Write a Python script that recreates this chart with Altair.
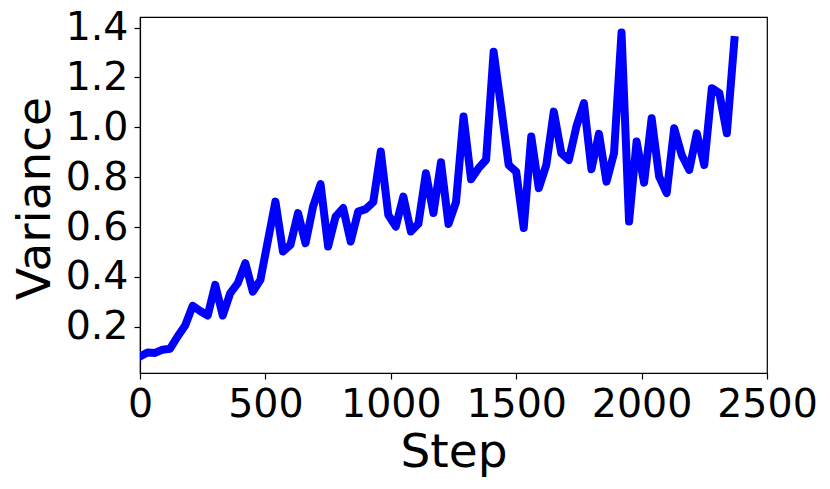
import altair as alt
import pandas as pd

steps = list(range(0, 2371, 30))
variance = [
    0.081, 0.097, 0.095, 0.108, 0.112, 0.161, 0.205, 0.284, 0.263, 0.245,
    0.368, 0.245, 0.335, 0.375, 0.455, 0.341, 0.388, 0.545, 0.702, 0.502,
    0.529, 0.656, 0.535, 0.682, 0.772, 0.522, 0.642, 0.676, 0.542, 0.662,
    0.672, 0.700, 0.903, 0.649, 0.602, 0.722, 0.582, 0.613, 0.816, 0.656,
    0.860, 0.612, 0.700, 1.043, 0.792, 0.836, 0.870, 1.303, 1.080, 0.849,
    0.822, 0.596, 0.963, 0.756, 0.849, 1.063, 0.896, 0.869, 1.003, 1.097,
    0.832, 0.974, 0.782, 0.896, 1.380, 0.622, 0.943, 0.778, 1.036, 0.802,
    0.736, 0.996, 0.889, 0.829, 0.976, 0.849, 1.157, 1.137, 0.976, 1.350,
]
x_ticks = [0, 500, 1000, 1500, 2000, 2500]
y_ticks = [0.2, 0.4, 0.6, 0.8, 1.0, 1.2, 1.4]

df = pd.DataFrame({"Step": steps, "Variance": variance})

FONT = "DejaVu Sans"

chart = (
    alt.Chart(df)
    .mark_line(color="#0000ff", strokeWidth=8, strokeJoin="round", strokeCap="square", clip=True)
    .encode(
        x=alt.X(
            "Step:Q",
            scale=alt.Scale(domain=[0, 2500], nice=False, zero=False),
            axis=alt.Axis(
                values=x_ticks,
                format="d",
                title="Step",
                titleX=313.5,
                titleY=93.7,
                titleBaseline="alphabetic",
                titleAnchor="middle",
                titleAlign="center",
            ),
        ),
        y=alt.Y(
            "Variance:Q",
            scale=alt.Scale(domain=[0.0145, 1.4425], nice=False, zero=False),
            axis=alt.Axis(
                values=y_ticks,
                format=".1f",
                title="Variance",
                titleAngle=-90,
                titleX=-90.7,
                titleY=181,
                titleBaseline="alphabetic",
                titleAlign="center",
            ),
        ),
    )
    .properties(
        width=627,
        height=356,
        autosize=alt.AutoSizeParams(type="none"),
        padding={"left": 132, "top": 9, "right": 55, "bottom": 108},
    )
    .configure_view(stroke="black", strokeWidth=1.2)
    .configure_axis(
        grid=False,
        domainColor="black",
        domainWidth=1.2,
        tickColor="black",
        tickWidth=1.2,
        tickSize=6,
        labelFont=FONT,
        labelFontSize=39.5,
        labelColor="black",
        labelPadding=6,
        titleFont=FONT,
        titleFontSize=47,
        titleFontWeight="normal",
        titleColor="black",
        labelFlush=False,
        labelOverlap=False,
    )
)

chart.save("out.html", embed_options={"renderer": "svg", "actions": False})
